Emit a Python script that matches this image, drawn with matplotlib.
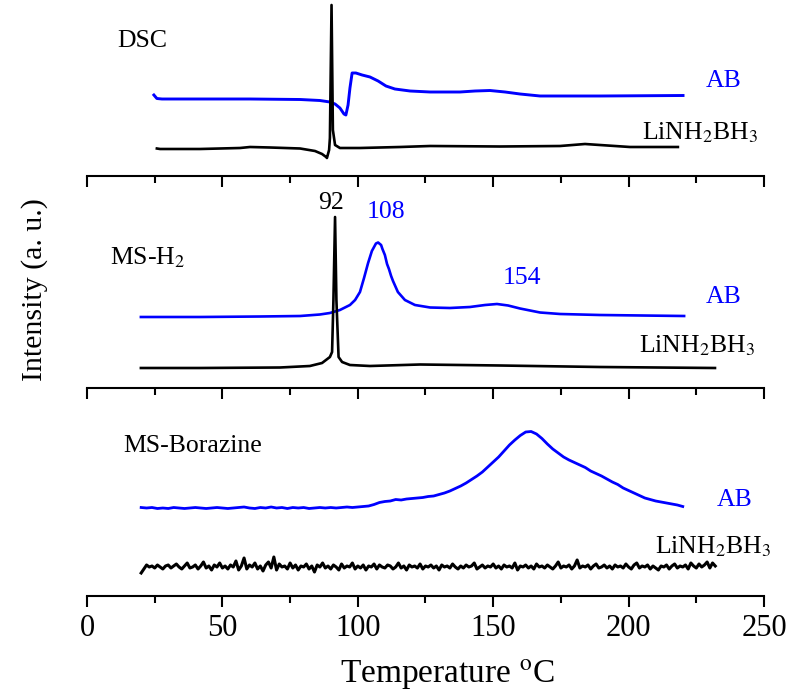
import numpy as np
import matplotlib
matplotlib.use("Agg")
import matplotlib.pyplot as plt
from matplotlib.ticker import MultipleLocator

plt.rcParams['font.family'] = ['Liberation Serif', 'DejaVu Serif']
plt.rcParams['mathtext.fontset'] = 'stix'

# ---- data (temperature in C, intensity in a.u.) ----
# DSC panel
dsc_ab_t = [24.7, 25.8, 27.7, 41.7, 60.2, 78.7, 86.0, 89.7, 91.6, 93.4, 94.9, 95.6,
            96.4, 97.1, 97.9, 99.3, 101.6, 104.5, 107.5, 110.4, 113.7, 119.3, 126.7,
            137.7, 143.3, 148.8, 154.4, 159.9, 167.3, 189.4, 220.1]
dsc_ab_i = [81, 77.5, 77, 77, 77, 76.5, 75.5, 74, 72, 68, 62, 61,
            71, 88, 103, 103, 101, 99, 95, 90, 87, 85, 84,
            84, 85, 85.5, 84, 82, 80, 80, 80.5]
dsc_li_t = [25.8, 27.0, 41.7, 56.5, 60.2, 67.6, 78.7, 84.2, 86.8, 88.3, 88.6, 89.4,
            89.7, 90.3, 90.8, 91.6, 93.4, 100.8, 115.6, 126.7, 152.5, 174.7, 183.9,
            189.4, 200.5, 218.2]
dsc_li_i = [27.5, 27, 27, 28, 29, 28.5, 27.5, 25, 22, 19, 18, 26,
            38, 171, 46, 31, 28, 28, 29, 30, 29.5, 30, 32,
            31, 29, 29]

# MS-H2 panel
h2_ab_t = [19.9, 41.7, 63.9, 78.7, 86.0, 89.7, 93.4, 97.1, 99.0, 100.8, 102.3, 103.8,
           104.5, 105.2, 106.0, 106.7, 107.5, 108.6, 109.1, 110.0, 110.8, 111.5, 112.3,
           113.0, 114.8, 117.4, 121.1, 126.7, 134.0, 141.4, 147.0, 151.4, 155.5, 159.9,
           167.3, 174.7, 189.4, 220.5]
h2_ab_i = [71, 71, 71.5, 72, 73.5, 75, 78, 83, 88, 96, 110, 125,
           131, 137, 141, 144.5, 145.5, 143, 139, 133, 124, 119, 112,
           107, 96, 88, 83, 80.5, 80, 81, 83, 84, 82.5, 79.5,
           75.5, 74, 73, 72]
h2_li_t = [19.9, 41.7, 71.3, 82.3, 86.8, 89.7, 90.5, 91.0, 91.6, 92.1, 92.9, 94.2,
           97.1, 104.5, 123.0, 152.5, 189.4, 231.9]
h2_li_i = [20, 20, 20.5, 22, 25, 31, 36, 88, 171, 88, 31, 26,
           23, 22, 23.5, 22.5, 21, 20]

# MS-Borazine panel
bz_ab_t = list(range(20, 222, 2))
bz_ab_i = [88.5, 88, 88.5, 87.5, 88, 87.5, 88.5, 88, 87.5, 88, 88.5, 88, 87.5, 88,
           88.5, 88, 87.5, 88, 88.5, 89, 88, 87.5, 88.5, 88, 89, 88, 88.5, 87.5,
           88.5, 88, 88.5, 87.5, 88, 88.5, 88, 88.5, 88, 88.5, 89, 88.5, 89, 89.5,
           90, 91.5, 93.5, 94.5, 95, 96.5, 96, 97, 97.5, 98, 98.5, 99.5, 100, 101.5,
           103, 105, 107.5, 110, 113, 116.5, 120, 124, 129, 134, 139, 145, 151, 156,
           160.5, 164, 164.5, 162, 157.5, 152, 147, 143, 139, 136, 133.5, 131, 128.5,
           125, 122.5, 120, 117, 114, 111.5, 108, 105.5, 103, 100.5, 98, 96.5, 95,
           94, 93, 92, 91, 89.5]
bz_li_t = list(range(20, 233))
bz_li_i = [23, 27, 31, 29, 30, 28, 31, 29, 27, 30,
           31, 28, 30, 32, 29, 27, 30, 33, 28, 29,
           31, 27, 30, 34, 28, 30, 26, 31, 29, 33,
           28, 30, 27, 31, 29, 35, 26, 30, 38, 27,
           31, 29, 33, 27, 30, 25, 31, 34, 28, 39,
           26, 32, 29, 30, 27, 33, 28, 31, 26, 30,
           29, 32, 27, 30, 24, 31, 29, 33, 28, 30,
           27, 31, 29, 26, 32, 28, 30, 29, 33, 27,
           30, 28, 31, 26, 30, 29, 32, 27, 31, 29,
           28, 31, 30, 27, 29, 33, 28, 30, 26, 31,
           29, 30, 28, 32, 27, 30, 29, 31, 28, 30,
           26, 31, 29, 30, 28, 32, 29, 27, 30, 28,
           31, 29, 30, 33, 27, 29, 31, 28, 30, 29,
           32, 28, 30, 27, 31, 29, 30, 28, 33, 26,
           30, 29, 31, 28, 30, 27, 32, 29, 30, 28,
           31, 29, 27, 30, 34, 28, 30, 29, 31, 27,
           30, 36, 28, 30, 29, 31, 27, 30, 32, 28,
           29, 31, 28, 30, 27, 31, 29, 30, 28, 32,
           29, 27, 31, 33, 28, 30, 29, 31, 27, 30,
           28, 26, 30, 29, 31, 27, 30, 32, 28, 30,
           29, 31, 27, 33, 30, 28, 32, 29, 31, 34,
           28, 33, 30]

li_label = r'LiNH$_2$BH$_3$'
blue = '#0000ff'

fig = plt.figure(figsize=(8.03, 6.91), dpi=100)
W, H = 803, 691
left, right = 87, 764

# (top pixel, bottom pixel) of each panel
panels = [(0, 176), (176, 388), (388, 596)]
axes = []
for top, bot in panels:
    ax = fig.add_axes([left / W, (H - bot) / H, (right - left) / W, (bot - top) / H])
    ax.set_xlim(0, 250)
    ax.set_ylim(0, bot - top)
    ax.patch.set_alpha(0)
    for s in ['left', 'right', 'top']:
        ax.spines[s].set_visible(False)
    ax.spines['bottom'].set_linewidth(1.5)
    ax.set_yticks([])
    ax.xaxis.set_major_locator(MultipleLocator(50))
    ax.xaxis.set_minor_locator(MultipleLocator(25))
    ax.tick_params(axis='x', which='major', direction='out', length=8, width=1.5,
                   labelsize=22, pad=5)
    ax.tick_params(axis='x', which='minor', direction='out', length=5, width=1.5)
    axes.append(ax)

ax1, ax2, ax3 = axes
ax1.tick_params(labelbottom=False)
ax2.tick_params(labelbottom=False)

lw = 1.9
fs = 18.5

# DSC
ax1.plot(dsc_ab_t, dsc_ab_i, color=blue, lw=2.1, clip_on=False)
ax1.plot(dsc_li_t, dsc_li_i, color='black', lw=lw, clip_on=False)
ax1.text(11, 129, 'DSC', fontsize=fs, va='baseline')
ax1.text(228.6, 89, 'AB', fontsize=fs, color=blue, va='baseline')
ax1.text(205, 37, li_label, fontsize=fs, va='baseline')

# MS-H2
ax2.plot(h2_ab_t, h2_ab_i, color=blue, lw=lw, clip_on=False)
ax2.plot(h2_li_t, h2_li_i, color='black', lw=lw, clip_on=False)
ax2.text(8.5, 124, r'MS-H$_2$', fontsize=fs, va='baseline')
ax2.text(90.1, 179, '92', fontsize=fs, ha='center', va='baseline')
ax2.text(110.4, 170, '108', fontsize=fs, color=blue, ha='center', va='baseline')
ax2.text(160.6, 104, '154', fontsize=fs, color=blue, ha='center', va='baseline')
ax2.text(228.6, 85, 'AB', fontsize=fs, color=blue, va='baseline')
ax2.text(203.8, 36, li_label, fontsize=fs, va='baseline')

# MS-Borazine
ax3.plot(bz_ab_t, bz_ab_i, color=blue, lw=2.0, clip_on=False)
ax3.plot(bz_li_t, bz_li_i, color='black', lw=2.2, clip_on=False)
ax3.text(13.3, 144, 'MS-Borazine', fontsize=fs, va='baseline')
ax3.text(232.6, 90, 'AB', fontsize=fs, color=blue, va='baseline')
ax3.text(209.7, 43, li_label, fontsize=fs, va='baseline')

fig.text(35 / W, 1 - 290 / H, 'Intensity (a. u.)', rotation=90, fontsize=21.5,
         ha='center', va='center')
fig.text(447 / W, 1 - 682 / H, r'Temperature $^{\mathrm{o}}$C', fontsize=24,
         ha='center', va='baseline')

fig.savefig('out.png', dpi=100)
